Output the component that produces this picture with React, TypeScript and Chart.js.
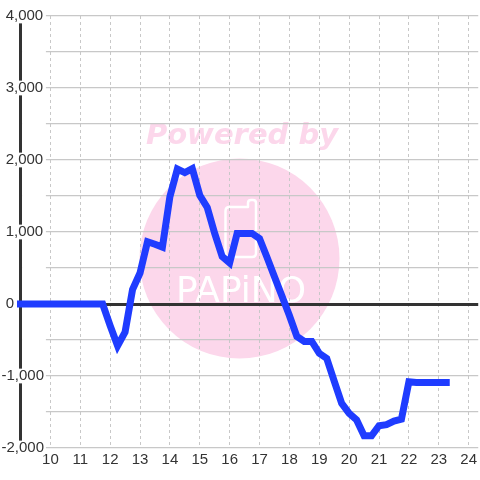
import React, { useEffect, useRef } from 'react';
import { Chart, registerables } from 'chart.js';

Chart.register(...registerables);

// ---- data ----
const START_HOUR = 9; // first sample (9:00)
const STEP_HOURS = 0.25; // one sample every 15 minutes
const values: number[] = [
  0, 0, 0, 0, 0, 0, 0, 0, 0, 0, 0, 0,
  -300, -580, -390, 200, 430, 865, 830, 790,
  1490, 1875, 1825, 1880, 1510, 1340, 980, 660,
  570, 980, 980, 980, 910, 650, 380, 110,
  -160, -450, -520, -520, -685, -755, -1070, -1380,
  -1520, -1610, -1830, -1830, -1690, -1675, -1625, -1600,
  -1080, -1090, -1090, -1090, -1090, -1090,
];
const xTickValues: number[] = [10, 11, 12, 13, 14, 15, 16, 17, 18, 19, 20, 21, 22, 23, 24];
const X_MIN = 9;
const X_MAX = 24.32;
const Y_MIN = -2000;
const Y_MAX = 4000;
const Y_GRID_STEP = 500;
const Y_LABEL_STEP = 1000;

const FONT = '"Liberation Sans", Arial, sans-serif';
const TEXT_COLOR = '#333333';
const LINE_COLOR = '#1f3cff';
const GRID_COLOR = '#c8c8c8';
const AXIS_COLOR = '#333333';
const WATERMARK_PINK = '#fcd7eb';

const formatY = (v: number) => {
  if (v % Y_LABEL_STEP !== 0) return '';
  const s = Math.abs(v).toLocaleString('en-US');
  return v < 0 ? '-' + s : ' ' + s;
};

const backgroundAndWatermark = {
  id: 'backgroundAndWatermark',
  beforeDraw(chart: any) {
    const ctx = chart.ctx as CanvasRenderingContext2D;
    ctx.save();
    ctx.fillStyle = '#ffffff';
    ctx.fillRect(0, 0, chart.width, chart.height);

    // pink disc
    ctx.fillStyle = WATERMARK_PINK;
    ctx.beginPath();
    ctx.arc(239.5, 258.5, 100, 0, Math.PI * 2);
    ctx.fill();

    // "Powered by"
    ctx.fillStyle = WATERMARK_PINK;
    ctx.font = 'italic bold 29px "DejaVu Sans", Verdana, sans-serif';
    ctx.textAlign = 'center';
    ctx.textBaseline = 'alphabetic';
    ctx.fillText('Powered by', 242, 144);

    // icon
    ctx.strokeStyle = '#ffffff';
    ctx.lineWidth = 2.5;
    ctx.lineJoin = 'round';
    ctx.beginPath();
    ctx.moveTo(225.5, 211);
    ctx.quadraticCurveTo(225.5, 207, 229.5, 207);
    ctx.lineTo(248, 207);
    ctx.lineTo(248, 203);
    ctx.quadraticCurveTo(248, 200, 251, 200);
    ctx.lineTo(253, 200);
    ctx.quadraticCurveTo(256, 200, 256, 203);
    ctx.lineTo(256, 253);
    ctx.quadraticCurveTo(256, 257, 252, 257);
    ctx.lineTo(229.5, 257);
    ctx.quadraticCurveTo(225.5, 257, 225.5, 253);
    ctx.closePath();
    ctx.stroke();

    // "PAPiNO"
    ctx.fillStyle = '#ffffff';
    ctx.font = '36px "DejaVu Sans", sans-serif';
    ctx.textAlign = 'center';
    ctx.fillText('PAPiNO', 241, 302);
    ctx.restore();
  },
};

const leftGutter = {
  id: 'leftGutter',
  beforeDatasetsDraw(chart: any) {
    const { ctx, chartArea } = chart;
    const xs = chart.scales.x;
    const right = xs.getPixelForValue(9.85);
    ctx.save();
    ctx.fillStyle = '#ffffff';
    ctx.fillRect(
      chartArea.left + 1.6,
      chartArea.top - 2,
      right - chartArea.left - 1.6,
      chartArea.bottom - chartArea.top + 4
    );
    ctx.restore();
  },
};

export default function App() {
  const canvasRef = useRef<HTMLCanvasElement | null>(null);

  useEffect(() => {
    const canvas = canvasRef.current;
    if (!canvas) return;
    const points = values.map((v, i) => ({ x: START_HOUR + i * STEP_HOURS, y: v }));
    const chart = new Chart(canvas, {
      type: 'line',
      data: {
        datasets: [
          {
            data: points,
            borderColor: LINE_COLOR,
            borderWidth: 7,
            pointRadius: 0,
            pointHoverRadius: 0,
            tension: 0,
            fill: false,
            borderCapStyle: 'square',
            clip: false as any,
          },
        ],
      },
      options: {
        animation: false,
        responsive: false,
        maintainAspectRatio: false,
        events: [],
        layout: { padding: { left: 1.5, top: 16, right: 0, bottom: 0 } },
        plugins: {
          legend: { display: false },
          tooltip: { enabled: false },
          title: { display: false },
        },
        scales: {
          x: {
            type: 'linear',
            min: X_MIN,
            max: X_MAX,
            afterBuildTicks: (scale: any) => {
              scale.ticks = xTickValues.map((v) => ({ value: v }));
            },
            afterFit: (scale: any) => {
              scale.height = 32;
            },
            grid: {
              color: GRID_COLOR,
              lineWidth: 1,
              drawTicks: false,
            },
            border: { display: false, dash: [3, 3] },
            ticks: {
              autoSkip: false,
              maxRotation: 0,
              padding: 3,
              color: TEXT_COLOR,
              font: { family: FONT, size: 15 },
              callback: (v: any) => String(v),
            },
          },
          y: {
            type: 'linear',
            min: Y_MIN,
            max: Y_MAX,
            afterFit: (scale: any) => {
              scale.width = 19;
            },
            grid: {
              drawTicks: false,
              color: (c: any) => (c.tick && c.tick.value === 0 ? AXIS_COLOR : GRID_COLOR),
              lineWidth: (c: any) => (c.tick && c.tick.value === 0 ? 3 : 1.3),
            },
            border: { display: true, color: AXIS_COLOR, width: 3 },
            ticks: {
              stepSize: Y_GRID_STEP,
              mirror: true,
              crossAlign: 'near',
              padding: -19,
              z: 1,
              color: TEXT_COLOR,
              font: { family: FONT, size: 15, lineHeight: 0.85 },
              showLabelBackdrop: true,
              backdropColor: '#ffffff',
              backdropPadding: 1,
              callback: (v: any) => formatY(Number(v)),
            },
          },
        },
      },
      plugins: [backgroundAndWatermark, leftGutter],
    });
    return () => chart.destroy();
  }, []);

  return (
    <div style={{ position: 'fixed', left: 0, top: 0, width: 480, height: 480, background: '#fff' }}>
      <canvas ref={canvasRef} width={480} height={480} style={{ display: 'block', width: 480, height: 480 }} />
    </div>
  );
}
